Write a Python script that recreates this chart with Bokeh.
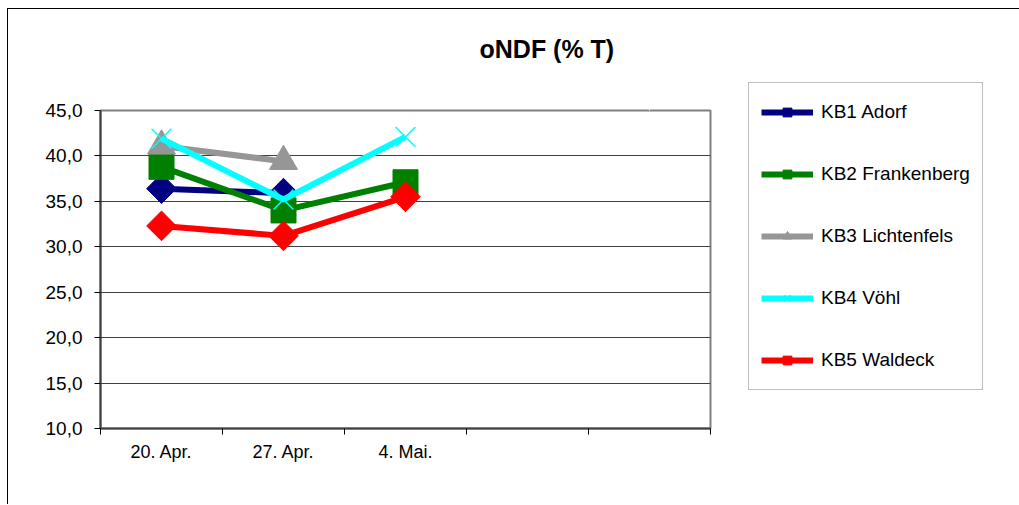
import math
from bokeh.plotting import figure
from bokeh.models import (FixedTicker, CustomJSTickFormatter, Legend, LegendItem, Range1d,
                          LinearAxis, Title)
from bokeh.embed import file_html
from bokeh.resources import INLINE

# ---- data ----
dates = ["20. Apr.", "27. Apr.", "4. Mai.", "", ""]
kb1_adorf = [36.4, 35.9]
kb2_frankenberg = [38.8, 34.0, 37.1]
kb3_lichtenfels = [41.1, 39.4]
kb4_voehl = [41.9, 35.2, 42.1]
kb5_waldeck = [32.3, 31.2, 35.5]
series_names = ["KB1 Adorf", "KB2 Frankenberg", "KB3 Lichtenfels", "KB4 Vöhl", "KB5 Waldeck"]
y_ticks = [10, 15, 20, 25, 30, 35, 40, 45]
title_text = "oNDF (% T)"

series = [kb1_adorf, kb2_frankenberg, kb3_lichtenfels, kb4_voehl, kb5_waldeck]
colors = ["#000080", "#008000", "#969696", "#00FFFF", "#FF0000"]
markers = [
    dict(marker="square", size=21, angle=math.pi / 4),
    dict(marker="square", size=25, angle=0),
    dict(marker="triangle", size=28, angle=0),
    dict(marker="x", size=28, angle=0),
    dict(marker="square", size=21, angle=math.pi / 4),
]

FONT = "Liberation Sans"

p = figure(title=None, frame_width=610, frame_height=318,
           output_backend="svg", toolbar_location=None,
           x_range=Range1d(0, len(dates)), y_range=Range1d(y_ticks[0], y_ticks[-1]),
           min_border_left=92, min_border_right=0, min_border_top=101, min_border_bottom=76,
           styles={"border-left": "1px solid #000000", "border-top": "1px solid #000000",
                   "margin-left": "7px", "margin-top": "8px"})

# invisible spacer axis between the frame and the title (one white tick, empty label)
spacer_tick = len(dates) - 0.5
spacer = LinearAxis(ticker=FixedTicker(ticks=[spacer_tick], minor_ticks=[]),
                    axis_line_color=None,
                    major_tick_line_color="#FFFFFF", minor_tick_line_color=None,
                    major_tick_out=48, major_tick_in=0, minor_tick_out=0, minor_tick_in=0,
                    major_label_standoff=0, major_label_text_font_size="1px",
                    major_label_overrides={spacer_tick: ""})
p.add_layout(spacer, "above")

title = Title(text=title_text, align="left", offset=379, standoff=0,
              text_font=FONT, text_font_size="25px", text_font_style="bold",
              text_color="#000000")
p.add_layout(title, "above")

p.outline_line_color = "#808080"
p.outline_line_width = 2

# y axis
p.yaxis.ticker = FixedTicker(ticks=y_ticks, minor_ticks=[])
p.yaxis.formatter = CustomJSTickFormatter(code="return tick.toFixed(1).replace('.', ',');")
p.yaxis.axis_line_color = "#404040"
p.yaxis.axis_line_width = 2
p.yaxis.major_tick_line_color = "#000000"
p.yaxis.major_tick_out = 6
p.yaxis.major_tick_in = 0
p.yaxis.major_label_standoff = 12
p.yaxis.major_label_text_font = FONT
p.yaxis.major_label_text_font_size = "19px"
p.yaxis.major_label_text_color = "#000000"

# x axis (category slots with tick marks at the slot boundaries)
centers = [i + 0.5 for i in range(len(dates))]
bounds = [i for i in range(len(dates) + 1)]
xaxis = p.below[0]
xaxis.ticker = FixedTicker(ticks=centers, minor_ticks=bounds)
xaxis.major_label_overrides = {c: d for c, d in zip(centers, dates)}
xaxis.axis_line_color = "#404040"
xaxis.axis_line_width = 2
xaxis.major_tick_line_color = None
xaxis.major_tick_out = 0
xaxis.major_tick_in = 0
xaxis.minor_tick_line_color = "#000000"
xaxis.minor_tick_out = 6
xaxis.minor_tick_in = 0
xaxis.major_label_standoff = 7
xaxis.major_label_text_font = FONT
xaxis.major_label_text_font_size = "18px"
xaxis.major_label_text_color = "#000000"

p.xgrid.grid_line_color = None
p.ygrid.grid_line_color = "#404040"
p.ygrid.grid_line_width = 1

items = []
for name, vals, col, mk in zip(series_names, series, colors, markers):
    xs = centers[:len(vals)]
    lr = p.line(xs, vals, line_color=col, line_width=6)
    if mk["marker"] == "x":
        sr = p.scatter(xs, vals, marker="x", size=mk["size"], line_color=col, line_width=1.5)
    else:
        sr = p.scatter(xs, vals, marker=mk["marker"], size=mk["size"], angle=mk["angle"],
                       fill_color=col, line_color=col)
    items.append(LegendItem(label=name, renderers=[lr, sr]))

legend = Legend(items=items, location="bottom_left", margin=38, padding=12,
                glyph_width=52, glyph_height=22, label_height=34, label_standoff=8,
                spacing=28, label_width=149,
                label_text_font=FONT, label_text_font_size="19px", label_text_color="#000000",
                border_line_color="#808080", border_line_width=1.5,
                background_fill_color="#FFFFFF", background_fill_alpha=1.0)
p.add_layout(legend, "right")

open("out.html", "w").write(file_html(p, INLINE))
